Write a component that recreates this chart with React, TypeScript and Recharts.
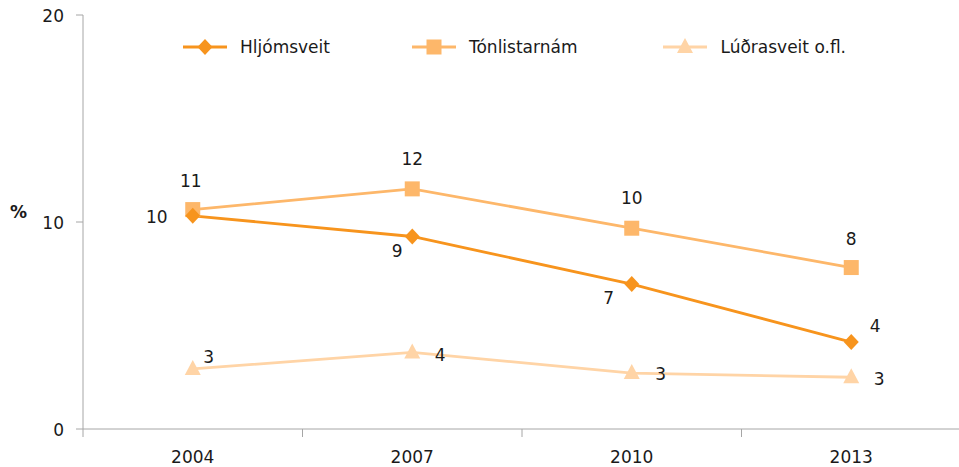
import { LineChart, Line, XAxis, YAxis, LabelList } from 'recharts';

const YEARS = ['2004', '2007', '2010', '2013'];
const HLJOMSVEIT = [10.3, 9.3, 7.0, 4.2];
const TONLISTARNAM = [10.6, 11.6, 9.7, 7.8];
const LUDRASVEIT = [2.9, 3.7, 2.7, 2.5];
const Y_TICKS = [0, 10, 20];

const SERIES_NAMES = ['Hljómsveit', 'Tónlistarnám', 'Lúðrasveit o.fl.'];
const COLORS = ['#f7941d', '#fdb76a', '#ffd4a6'];

// label placement per point, relative to the marker
const HLJ_LABEL_OFFSETS = [[-36, 1], [-15, 15], [-23, 14], [24, -16]];
const TON_LABEL_OFFSETS = [[-2, -29], [0, -30], [0, -30], [0, -29]];
const LUD_LABEL_OFFSETS = [[16, -12], [28, 3], [29, 1], [28, 2]];

const FONT = '"DejaVu Sans", sans-serif';
const AXIS_GREY = '#a6a6a6';
const LINE_W = 2.8;

const CHART_W = 959;
const CHART_H = 467;
const Y_AXIS_W = 83;
const MARGIN_RIGHT = -2;
const PLOT_W = CHART_W - Y_AXIS_W - MARGIN_RIGHT;
const HALF_BAND = PLOT_W / YEARS.length / 2;

const data = YEARS.map((year, i) => ({
  year,
  hljomsveit: HLJOMSVEIT[i],
  tonlistarnam: TONLISTARNAM[i],
  ludrasveit: LUDRASVEIT[i],
}));

type Shape = 'diamond' | 'square' | 'triangle';

function marker(shape: Shape, cx: number, cy: number, fill: string) {
  if (shape === 'diamond') {
    return <path d={`M${cx},${cy - 8} L${cx + 7.5},${cy} L${cx},${cy + 8} L${cx - 7.5},${cy} Z`} fill={fill} />;
  }
  if (shape === 'square') {
    return <rect x={cx - 7.5} y={cy - 7.5} width={15} height={15} fill={fill} />;
  }
  return <path d={`M${cx},${cy - 9} L${cx + 8},${cy + 6} L${cx - 8},${cy + 6} Z`} fill={fill} />;
}

const makeDot = (shape: Shape, fill: string) => (props: any) => {
  const { cx, cy, index } = props;
  if (cx == null || cy == null) return <g key={index} />;
  return <g key={index}>{marker(shape, cx, cy, fill)}</g>;
};

const makeLabel = (offsets: number[][]) => (props: any) => {
  const { x, y, value, index } = props;
  const [dx, dy] = offsets[index] || [0, 0];
  return (
    <text
      x={x + dx}
      y={y + dy}
      textAnchor="middle"
      dominantBaseline="central"
      fontFamily={FONT}
      fontSize={17}
      fill="#1a1a1a"
    >
      {Math.round(value)}
    </text>
  );
};

const XTick = (props: any) => {
  const { x, y, payload } = props;
  return (
    <g>
      <line x1={x - HALF_BAND} x2={x - HALF_BAND} y1={y} y2={y + 8} stroke={AXIS_GREY} strokeWidth={1} />
      <text x={x} y={y + 34} textAnchor="middle" fontFamily={FONT} fontSize={17} fill="#1a1a1a">
        {payload.value}
      </text>
    </g>
  );
};

const SHAPES: Shape[] = ['diamond', 'square', 'triangle'];

const ChartLegend = () => (
  <div
    style={{
      position: 'absolute',
      top: 37,
      left: 183,
      display: 'flex',
      alignItems: 'center',
      fontFamily: FONT,
      fontSize: 17,
      color: '#1a1a1a',
      whiteSpace: 'nowrap',
    }}
  >
    {SERIES_NAMES.map((name, i) => (
      <div key={name} style={{ display: 'flex', alignItems: 'center', marginRight: i === 0 ? 82 : 86 }}>
        <svg width={44} height={20} style={{ marginRight: 13 }}>
          <line x1={0} x2={44} y1={10} y2={10} stroke={COLORS[i]} strokeWidth={LINE_W} />
          {marker(SHAPES[i], 22, 10, COLORS[i])}
        </svg>
        <span>{name}</span>
      </div>
    ))}
  </div>
);

export default function App() {
  return (
    <div style={{ position: 'absolute', top: 0, left: 0, width: CHART_W, height: CHART_H, background: '#fff' }}>
      <LineChart
        width={CHART_W}
        height={CHART_H}
        data={data}
        margin={{ top: 15, right: MARGIN_RIGHT, bottom: 0, left: 0 }}
      >
        <XAxis
          dataKey="year"
          height={38}
          stroke={AXIS_GREY}
          tickLine={false}
          tickSize={0}
          tickMargin={0}
          tick={<XTick />}
          interval={0}
          padding={{ left: HALF_BAND, right: HALF_BAND }}
        />
        <YAxis
          width={Y_AXIS_W}
          domain={[0, 20]}
          ticks={Y_TICKS}
          stroke={AXIS_GREY}
          tickSize={7}
          tickMargin={12}
          tick={{ fill: '#1a1a1a', fontSize: 17, fontFamily: FONT, dy: 1 }}
          label={{
            value: '%',
            position: 'insideLeft',
            offset: 10,
            dy: -10,
            style: { fontFamily: FONT, fontSize: 17, fontWeight: 'bold', fill: '#1a1a1a' },
          }}
        />
        <Line
          dataKey="ludrasveit"
          name={SERIES_NAMES[2]}
          stroke={COLORS[2]}
          strokeWidth={LINE_W}
          dot={makeDot('triangle', COLORS[2])}
          activeDot={false}
          isAnimationActive={false}
        >
          <LabelList dataKey="ludrasveit" content={makeLabel(LUD_LABEL_OFFSETS)} />
        </Line>
        <Line
          dataKey="tonlistarnam"
          name={SERIES_NAMES[1]}
          stroke={COLORS[1]}
          strokeWidth={LINE_W}
          dot={makeDot('square', COLORS[1])}
          activeDot={false}
          isAnimationActive={false}
        >
          <LabelList dataKey="tonlistarnam" content={makeLabel(TON_LABEL_OFFSETS)} />
        </Line>
        <Line
          dataKey="hljomsveit"
          name={SERIES_NAMES[0]}
          stroke={COLORS[0]}
          strokeWidth={LINE_W}
          dot={makeDot('diamond', COLORS[0])}
          activeDot={false}
          isAnimationActive={false}
        >
          <LabelList dataKey="hljomsveit" content={makeLabel(HLJ_LABEL_OFFSETS)} />
        </Line>
      </LineChart>
      <ChartLegend />
    </div>
  );
}
